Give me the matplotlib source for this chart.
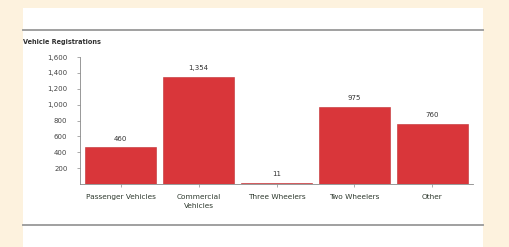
import matplotlib.pyplot as plt
from matplotlib.patches import Rectangle
from matplotlib.lines import Line2D

categories = ['Passenger Vehicles', 'Commercial\nVehicles', 'Three Wheelers', 'Two Wheelers', 'Other']
registrations = [460, 1354, 11, 975, 760]
yticks = [200, 400, 600, 800, 1000, 1200, 1400, 1600]

fig = plt.figure(figsize=(5.1, 2.47), dpi=100)
fig.patch.set_facecolor('#fdf2de')

# white panel and grey rules
fig.patches.append(Rectangle((23/510, 0), 460/510, 1 - 8/247, transform=fig.transFigure,
                             facecolor='white', edgecolor='none', zorder=-5))
for yy in [1 - 30/247, 1 - 225/247]:
    fig.lines.append(Line2D([23/510, 483/510], [yy, yy], transform=fig.transFigure,
                            color='#a0a0a0', lw=1.4, zorder=-4))

ax = fig.add_axes([80/510, 1 - 184/247, 393/510, 127/247])
ax.set_zorder(2)
ax.set_facecolor('white')
x = range(len(categories))
ax.bar(x, registrations, width=0.9, color='#d9363a', edgecolor='#c02e31', lw=0.4)
for i, v in enumerate(registrations):
    ax.text(i, v + 75, f'{v:,}', ha='center', va='bottom', fontsize=5, color='#333333')

ax.set_xlim(-0.52, 4.52)
ax.set_ylim(0, 1600)
ax.set_yticks(yticks)
ax.set_yticklabels([f'{t:,}' for t in yticks], fontsize=5, color='#444444')
ax.set_xticks(list(x))
ax.set_xticklabels(categories, fontsize=5.3, color='#2f3a2f', linespacing=1.6)
ax.tick_params(axis='y', length=2, width=0.5, color='#888888', pad=7)
ax.tick_params(axis='x', length=2, width=0.5, color='#888888', pad=5)
for s in ['top', 'right']:
    ax.spines[s].set_visible(False)
for s in ['left', 'bottom']:
    ax.spines[s].set_color('#888888')
    ax.spines[s].set_linewidth(0.6)

fig.text(23/510, 1 - 42/247, 'Vehicle Registrations', fontsize=4.7, fontweight='bold',
         color='#333333', va='center', ha='left')

fig.savefig('out.png', dpi=100, facecolor=fig.get_facecolor())
